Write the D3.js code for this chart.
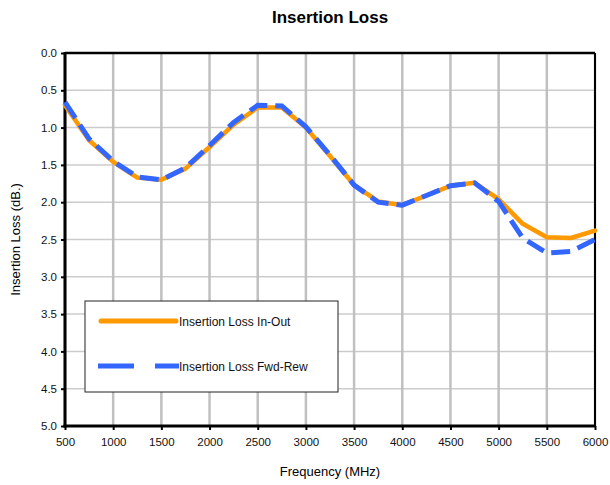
<!DOCTYPE html>
<html lang="en">
<head>
    <meta charset="UTF-8">
    <title>Insertion Loss</title>
    <style>
        body { margin: 0; background: #fff; }
        text { font-family: "Liberation Sans", Arial, sans-serif; }
    </style>
</head>
<body>
<script src="https://cdn.jsdelivr.net/npm/d3@7"></script>
<script>
    // frequency points (MHz)
    let freq = [500, 750, 1000, 1250, 1500, 1750, 2000, 2250, 2500, 2750, 3000, 3250,
                3500, 3750, 4000, 4250, 4500, 4750, 5000, 5250, 5500, 5750, 6000]
    // Insertion Loss In-Out (dB)
    let inOut = [0.70, 1.17, 1.46, 1.67, 1.70, 1.55, 1.26, 0.96, 0.73, 0.73, 1.00, 1.38,
                 1.77, 1.99, 2.04, 1.91, 1.78, 1.74, 1.96, 2.29, 2.47, 2.48, 2.38]
    // Insertion Loss Fwd-Rew (dB)
    let fwdRew = [0.66, 1.15, 1.45, 1.66, 1.70, 1.54, 1.24, 0.93, 0.70, 0.71, 0.99, 1.37,
                  1.77, 2.00, 2.04, 1.91, 1.78, 1.74, 1.99, 2.48, 2.68, 2.66, 2.50]

    let xTicks = d3.range(500, 6001, 500)
    let yTicks = d3.range(0, 5.01, 0.5)
    let seriesNames = ["Insertion Loss In-Out", "Insertion Loss Fwd-Rew"]
    let colors = ["#ff9900", "#3366ff"]

    let width = 610
    let height = 485
    let m = {left: 65, right: 15, top: 53, bottom: 59}

    let svg = d3.select("body").append("svg")
        .attr("width", width)
        .attr("height", height)

    let x = d3.scaleLinear().domain([500, 6000]).range([m.left, width - m.right])
    let y = d3.scaleLinear().domain([0, 5]).range([m.top, height - m.bottom])

    // horizontal grid
    svg.append("g").selectAll("line").data(yTicks).join("line")
        .attr("x1", x(500)).attr("x2", x(6000))
        .attr("y1", d => y(d)).attr("y2", d => y(d))
        .attr("stroke", "#cccccc").attr("stroke-width", 1.5)

    // vertical grid
    svg.append("g").selectAll("line").data(xTicks).join("line")
        .attr("x1", d => x(d)).attr("x2", d => x(d))
        .attr("y1", y(0)).attr("y2", y(5))
        .attr("stroke", "#c0c0c0").attr("stroke-width", 2.5)

    // axes
    let yAxis = svg.append("g")
        .attr("transform", `translate(${m.left},0)`)
        .call(d3.axisLeft(y).tickValues(yTicks).tickFormat(d3.format(".1f")).tickSize(4).tickSizeOuter(0))
    let xAxis = svg.append("g")
        .attr("transform", `translate(0,${y(5)})`)
        .call(d3.axisBottom(x).tickValues(xTicks).tickFormat(d => d).tickSize(4).tickSizeOuter(0))
    for (let a of [xAxis, yAxis]) {
        a.select(".domain").remove()
        a.selectAll(".tick line").attr("stroke", "#000").attr("stroke-width", 2)
        a.selectAll("text").attr("font-size", 11.5).attr("fill", "#111")
            .attr("font-family", "Liberation Sans, Arial, sans-serif")
    }
    yAxis.selectAll("text").attr("dx", -1)
    xAxis.selectAll("text").attr("dy", "1.1em")

    // frame
    svg.append("line").attr("x1", x(500)).attr("x2", x(6000)).attr("y1", y(0)).attr("y2", y(0))
        .attr("stroke", "#000").attr("stroke-width", 2.5)
    svg.append("line").attr("x1", x(6000)).attr("x2", x(6000)).attr("y1", y(0)).attr("y2", y(5))
        .attr("stroke", "#000").attr("stroke-width", 2)
    svg.append("line").attr("x1", x(500)).attr("x2", x(500)).attr("y1", y(0) - 1).attr("y2", y(5) + 1.5)
        .attr("stroke", "#000").attr("stroke-width", 3)
    svg.append("line").attr("x1", x(500) - 1.5).attr("x2", x(6000) + 1).attr("y1", y(5)).attr("y2", y(5))
        .attr("stroke", "#000").attr("stroke-width", 3)

    let line = d3.line().x((d, i) => x(freq[i])).y(d => y(d))

    svg.append("path").datum(inOut)
        .attr("d", line)
        .attr("fill", "none")
        .attr("stroke", colors[0])
        .attr("stroke-width", 4.5)
        .attr("stroke-linejoin", "round")
        .attr("stroke-linecap", "round")

    svg.append("path").datum(fwdRew)
        .attr("d", line)
        .attr("fill", "none")
        .attr("stroke", colors[1])
        .attr("stroke-width", 5)
        .attr("stroke-dasharray", "19,8")
        .attr("stroke-linejoin", "miter")

    // legend
    let lg = svg.append("g")
    lg.append("rect")
        .attr("x", 85).attr("y", 301).attr("width", 253).attr("height", 91)
        .attr("fill", "#fff").attr("stroke", "#222").attr("stroke-width", 1)
    let ly = [321, 366]
    lg.append("line").attr("x1", 101).attr("x2", 176).attr("y1", ly[0]).attr("y2", ly[0])
        .attr("stroke", colors[0]).attr("stroke-width", 5).attr("stroke-linecap", "round")
    lg.append("line").attr("x1", 98).attr("x2", 179).attr("y1", ly[1]).attr("y2", ly[1])
        .attr("stroke", colors[1]).attr("stroke-width", 5).attr("stroke-dasharray", "36,21")
    seriesNames.forEach((s, i) => {
        lg.append("text").attr("x", 179).attr("y", ly[i] + 4.5)
            .attr("font-size", 12).attr("fill", "#111").text(s)
    })

    // titles
    svg.append("text").attr("x", 330).attr("y", 23)
        .attr("text-anchor", "middle").attr("font-size", 17).attr("font-weight", "bold")
        .text("Insertion Loss")
    svg.append("text").attr("x", 330).attr("y", 476)
        .attr("text-anchor", "middle").attr("font-size", 13)
        .text("Frequency (MHz)")
    svg.append("text")
        .attr("transform", `translate(20,${(y(0) + y(5)) / 2}) rotate(-90)`)
        .attr("text-anchor", "middle").attr("font-size", 13)
        .text("Insertion Loss (dB.)")
</script>
</body>
</html>
